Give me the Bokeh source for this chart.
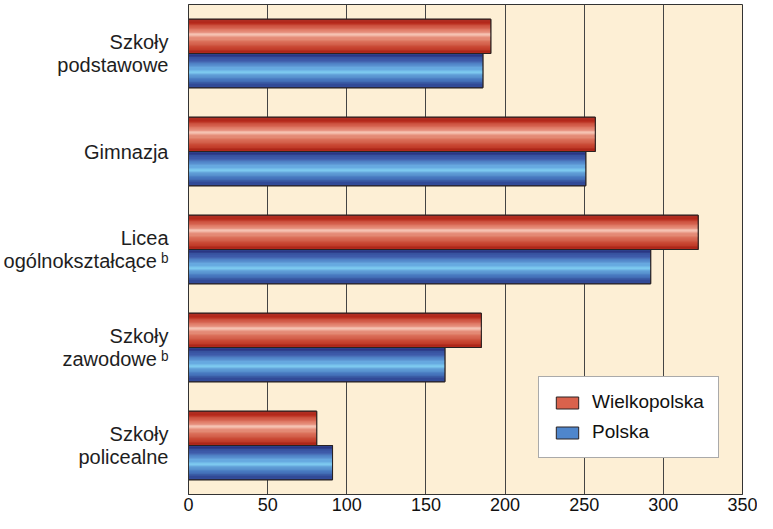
import numpy as np
from bokeh.plotting import figure
from bokeh.models import ColumnDataSource, Range1d, FixedTicker, Legend, LegendItem
from bokeh.embed import file_html
from bokeh.resources import INLINE

# ---- data ----
categories = ["Szkoły\npodstawowe", "Gimnazja", "Licea\nogólnokształcące\u2009ᵇ",
              "Szkoły\nzawodowe\u2009ᵇ", "Szkoły\npolicealne"]
wielkopolska = [191, 257, 322, 185, 81]
polska = [186, 251, 292, 162, 91]
series_names = ["Wielkopolska", "Polska"]
x_ticks = [0, 50, 100, 150, 200, 250, 300, 350]

# ---- styling ----
FONT = "Liberation Sans"
BAR_H = 0.35
N_STRIPES = 28
red_profile = [(0.0, (150, 22, 15)), (0.12, (185, 45, 30)), (0.3, (222, 118, 98)),
               (0.45, (246, 196, 180)), (0.6, (226, 132, 110)), (0.85, (196, 62, 42)),
               (1.0, (160, 25, 15))]
blue_profile = [(0.0, (35, 42, 118)), (0.2, (60, 88, 168)), (0.42, (105, 172, 226)),
                (0.55, (126, 202, 240)), (0.75, (72, 122, 192)), (1.0, (38, 48, 128))]
mid_colors = ["#d9624c", "#4f86cc"]


def interp(profile, t):
    for (t0, c0), (t1, c1) in zip(profile[:-1], profile[1:]):
        if t0 <= t <= t1:
            f = (t - t0) / (t1 - t0) if t1 > t0 else 0
            c = [int(round(a + (b - a) * f)) for a, b in zip(c0, c1)]
            return "#%02x%02x%02x" % tuple(c)
    return "#%02x%02x%02x" % profile[-1][1]


p = figure(width=757, height=513, x_range=Range1d(0, 350), y_range=Range1d(4.5, -0.5),
           output_backend="svg", toolbar_location=None,
           min_border_left=180, min_border_right=15, min_border_top=4, min_border_bottom=18)
p.background_fill_color = "#fdefd5"
p.border_fill_color = "white"
p.outline_line_color = "#333333"
p.outline_line_width = 1

pos = np.arange(len(categories))
legend_items = []
for si, (vals, prof, offs) in enumerate([(wielkopolska, red_profile, -BAR_H / 2),
                                          (polska, blue_profile, BAR_H / 2)]):
    centers = pos + offs
    base = p.hbar(y=centers, left=0, right=vals, height=BAR_H,
                  fill_color=mid_colors[si], line_color="#2a2222", line_width=1)
    legend_items.append(LegendItem(label=series_names[si], renderers=[base]))
    ys, rights, cols = [], [], []
    h = BAR_H / N_STRIPES
    for c, v in zip(centers, vals):
        for k in range(N_STRIPES):
            t = (k + 0.5) / N_STRIPES
            ys.append(c - BAR_H / 2 + (k + 0.5) * h)
            rights.append(v)
            cols.append(interp(prof, t))
    src = ColumnDataSource(dict(y=ys, right=rights, color=cols))
    p.hbar(y="y", left=0, right="right", height=h * 1.08, fill_color="color",
           line_color=None, source=src)
    p.hbar(y=centers, left=0, right=vals, height=BAR_H, fill_color=None,
           line_color="#2a2222", line_width=1)

# axes
p.xaxis.ticker = FixedTicker(ticks=x_ticks)
p.xaxis.major_tick_line_color = None
p.xaxis.major_tick_out = 0
p.xaxis.major_tick_in = 0
p.xaxis.minor_tick_line_color = None
p.xaxis.axis_line_color = "#333333"
p.xaxis.major_label_text_font = FONT
p.xaxis.major_label_text_font_size = "18px"
p.xaxis.major_label_text_color = "#111111"
p.xaxis.major_label_standoff = 3

p.yaxis.ticker = FixedTicker(ticks=list(pos))
p.yaxis.major_label_overrides = {int(i): c for i, c in zip(pos, categories)}
p.yaxis.major_tick_line_color = None
p.yaxis.major_tick_out = 0
p.yaxis.major_tick_in = 0
p.yaxis.minor_tick_line_color = None
p.yaxis.axis_line_color = "#333333"
p.yaxis.major_label_text_font = FONT
p.yaxis.major_label_text_font_size = "20px"
p.yaxis.major_label_text_color = "#1e1e1e"
p.yaxis.major_label_text_line_height = 1.05
p.yaxis.major_label_standoff = 20

p.xgrid.ticker = FixedTicker(ticks=x_ticks)
p.xgrid.grid_line_color = "#444444"
p.xgrid.grid_line_width = 1
p.ygrid.grid_line_color = None

legend = Legend(items=legend_items, location=(350, 36))
legend.label_text_font = FONT
legend.label_text_font_size = "19px"
legend.label_text_color = "#111111"
legend.glyph_width = 28
legend.glyph_height = 15
legend.label_standoff = 11
legend.padding = 14
legend.spacing = 8
legend.margin = 0
legend.border_line_color = "#555555"
legend.border_line_width = 1
legend.background_fill_color = "white"
legend.background_fill_alpha = 1.0
p.add_layout(legend, "center")

open("out.html", "w").write(file_html(p, INLINE))
